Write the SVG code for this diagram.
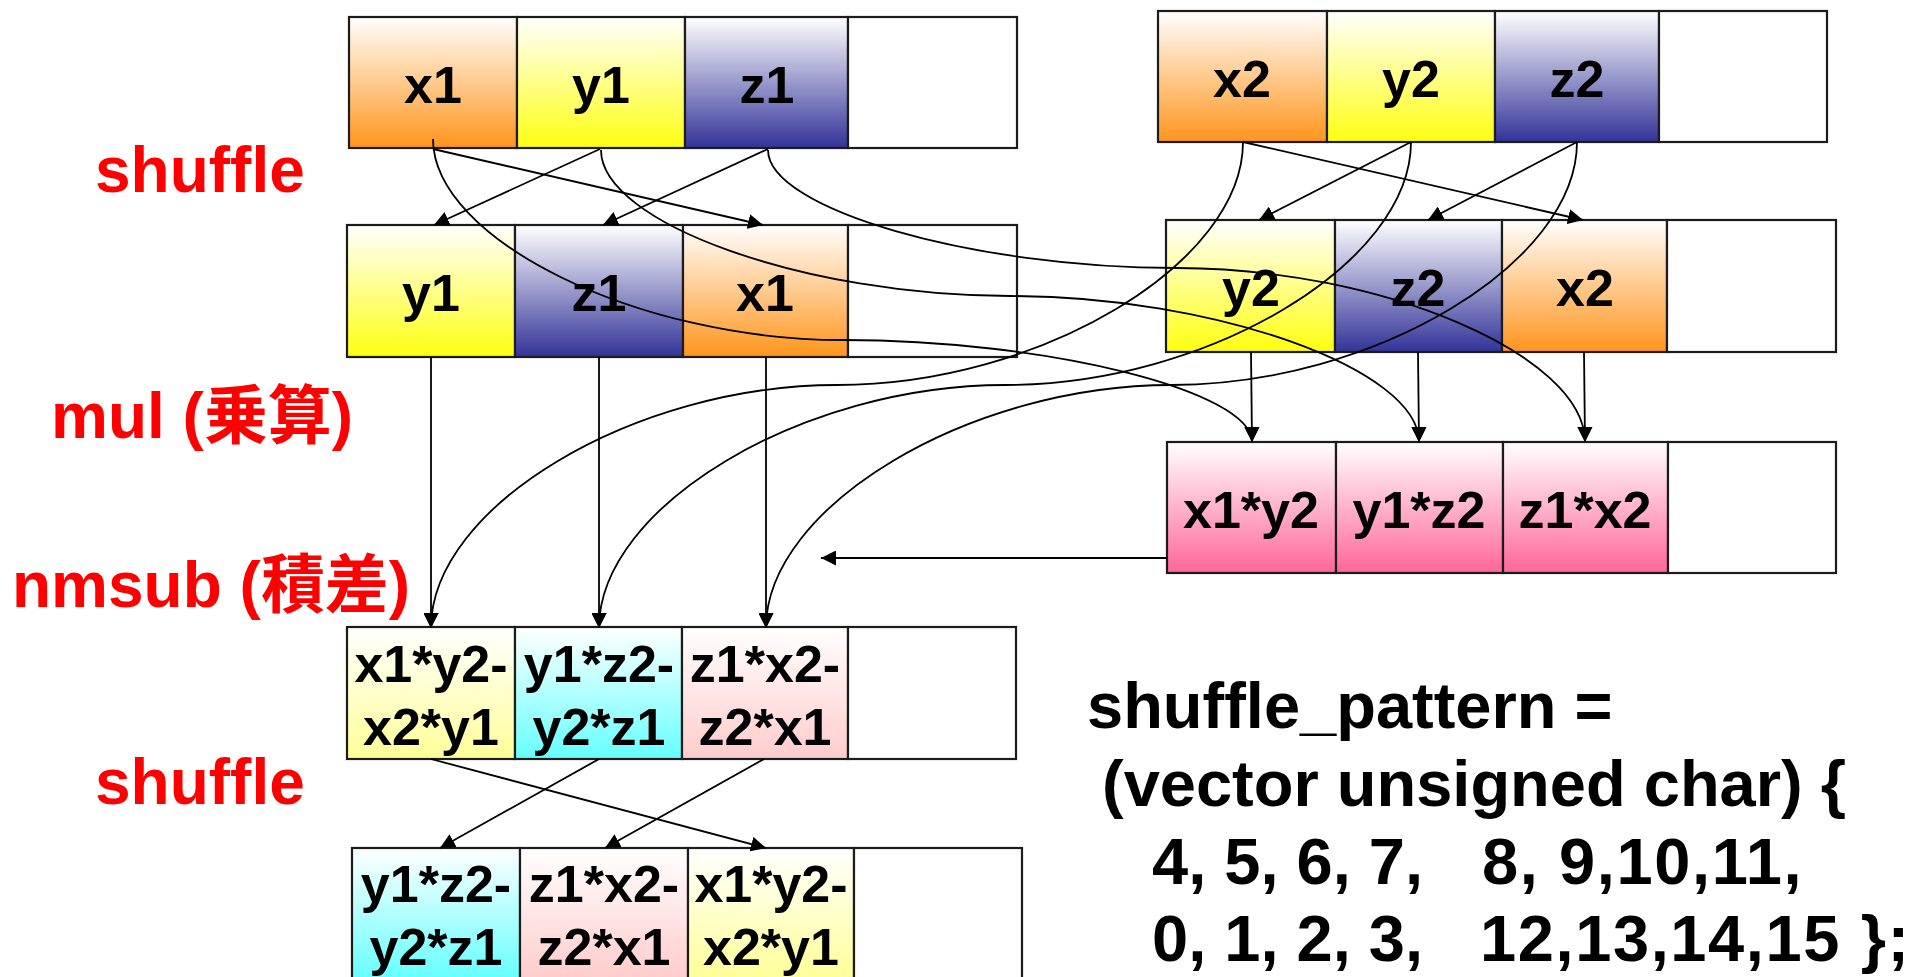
<svg xmlns="http://www.w3.org/2000/svg" width="1908" height="977" viewBox="0 0 1908 977">
  <defs>
    <linearGradient id="gX" x1="0" y1="0" x2="0" y2="1">
      <stop offset="0" stop-color="#ffffff"/>
      <stop offset="1" stop-color="#ff951c"/>
    </linearGradient>
    <linearGradient id="gY" x1="0" y1="0" x2="0" y2="1">
      <stop offset="0" stop-color="#ffffff"/>
      <stop offset="1" stop-color="#ffff10"/>
    </linearGradient>
    <linearGradient id="gZ" x1="0" y1="0" x2="0" y2="1">
      <stop offset="0" stop-color="#ffffff"/>
      <stop offset="1" stop-color="#333399"/>
    </linearGradient>
    <linearGradient id="gP" x1="0" y1="0" x2="0" y2="1">
      <stop offset="0" stop-color="#ffffff"/>
      <stop offset="1" stop-color="#ff6699"/>
    </linearGradient>
    <linearGradient id="gPY" x1="0" y1="0" x2="0" y2="1">
      <stop offset="0" stop-color="#ffffff"/>
      <stop offset="1" stop-color="#ffff99"/>
    </linearGradient>
    <linearGradient id="gC" x1="0" y1="0" x2="0" y2="1">
      <stop offset="0" stop-color="#ffffff"/>
      <stop offset="1" stop-color="#66ffff"/>
    </linearGradient>
    <linearGradient id="gPP" x1="0" y1="0" x2="0" y2="1">
      <stop offset="0" stop-color="#ffffff"/>
      <stop offset="1" stop-color="#ffcccc"/>
    </linearGradient>
    <marker id="arr" viewBox="0 0 15 15" markerUnits="userSpaceOnUse" markerWidth="15" markerHeight="15" refX="15" refY="7.5" orient="auto">
      <path d="M0,0 L15,7.5 L0,15 z" fill="#000"/>
    </marker>
  </defs>
  <style>
    .cell { stroke: #1c1c1c; stroke-width: 2.2; }
    .blank { fill: #ffffff; }
    .lbl { font-family: "Liberation Sans", Arial, sans-serif; font-weight: bold; font-size: 52px; text-anchor: middle; fill: #000; }
    .red { font-family: "Liberation Sans", "Noto Sans CJK JP", sans-serif; font-weight: bold; font-size: 64px; fill: #ff0000; }
    .code { font-family: "Liberation Sans", Arial, sans-serif; font-weight: bold; font-size: 65px; fill: #000; }
    .wide { letter-spacing: 1.6px; }
    .conn { fill: none; stroke: #000; stroke-width: 1.8; marker-end: url(#arr); }
  </style>

  <rect width="1908" height="977" fill="#ffffff"/>

  <!-- operation labels -->
  <g id="op-labels">
    <text class="red" x="95" y="192">shuffle</text>
    <text class="red" x="51" y="438">mul (乗算)</text>
    <text class="red" x="12" y="607">nmsub (積差)</text>
    <text class="red" x="95" y="804">shuffle</text>
  </g>

  <!-- vector a = (x1, y1, z1, -) -->
  <g id="vecA">
    <g id="vecA-x1"><rect class="cell" x="349" y="17" width="168" height="131" fill="url(#gX)"/><text class="lbl" x="433" y="103">x1</text></g>
    <g id="vecA-y1"><rect class="cell" x="517" y="17" width="168" height="131" fill="url(#gY)"/><text class="lbl" x="601" y="103">y1</text></g>
    <g id="vecA-z1"><rect class="cell" x="685" y="17" width="163" height="131" fill="url(#gZ)"/><text class="lbl" x="767" y="103">z1</text></g>
    <g id="vecA-w"><rect class="cell blank" x="848" y="17" width="169" height="131"/></g>
  </g>

  <!-- vector b = (x2, y2, z2, -) -->
  <g id="vecB">
    <g id="vecB-x2"><rect class="cell" x="1158" y="11" width="169" height="131" fill="url(#gX)"/><text class="lbl" x="1242" y="97">x2</text></g>
    <g id="vecB-y2"><rect class="cell" x="1327" y="11" width="168" height="131" fill="url(#gY)"/><text class="lbl" x="1411" y="97">y2</text></g>
    <g id="vecB-z2"><rect class="cell" x="1495" y="11" width="164" height="131" fill="url(#gZ)"/><text class="lbl" x="1577" y="97">z2</text></g>
    <g id="vecB-w"><rect class="cell blank" x="1659" y="11" width="168" height="131"/></g>
  </g>

  <!-- a shuffled = (y1, z1, x1, -) -->
  <g id="vecAs">
    <g id="vecAs-y1"><rect class="cell" x="347" y="225" width="168" height="132" fill="url(#gY)"/><text class="lbl" x="431" y="311">y1</text></g>
    <g id="vecAs-z1"><rect class="cell" x="515" y="225" width="168" height="132" fill="url(#gZ)"/><text class="lbl" x="599" y="311">z1</text></g>
    <g id="vecAs-x1"><rect class="cell" x="683" y="225" width="165" height="132" fill="url(#gX)"/><text class="lbl" x="765" y="311">x1</text></g>
    <g id="vecAs-w"><rect class="cell blank" x="848" y="225" width="169" height="132"/></g>
  </g>

  <!-- b shuffled = (y2, z2, x2, -) -->
  <g id="vecBs">
    <g id="vecBs-y2"><rect class="cell" x="1166" y="220" width="169" height="132" fill="url(#gY)"/><text class="lbl" x="1251" y="306">y2</text></g>
    <g id="vecBs-z2"><rect class="cell" x="1335" y="220" width="167" height="132" fill="url(#gZ)"/><text class="lbl" x="1418" y="306">z2</text></g>
    <g id="vecBs-x2"><rect class="cell" x="1502" y="220" width="165" height="132" fill="url(#gX)"/><text class="lbl" x="1585" y="306">x2</text></g>
    <g id="vecBs-w"><rect class="cell blank" x="1667" y="220" width="169" height="132"/></g>
  </g>

  <!-- products -->
  <g id="vecMul">
    <g id="vecMul-0"><rect class="cell" x="1167" y="442" width="169" height="131" fill="url(#gP)"/><text class="lbl" x="1251" y="528">x1*y2</text></g>
    <g id="vecMul-1"><rect class="cell" x="1336" y="442" width="167" height="131" fill="url(#gP)"/><text class="lbl" x="1419" y="528">y1*z2</text></g>
    <g id="vecMul-2"><rect class="cell" x="1503" y="442" width="165" height="131" fill="url(#gP)"/><text class="lbl" x="1585" y="528">z1*x2</text></g>
    <g id="vecMul-w"><rect class="cell blank" x="1668" y="442" width="168" height="131"/></g>
  </g>

  <!-- negative multiply-subtract result -->
  <g id="vecSub">
    <g id="vecSub-0"><rect class="cell" x="347" y="627" width="168" height="132" fill="url(#gPY)"/><text class="lbl" x="431" y="682">x1*y2-</text><text class="lbl" x="431" y="745">x2*y1</text></g>
    <g id="vecSub-1"><rect class="cell" x="515" y="627" width="167" height="132" fill="url(#gC)"/><text class="lbl" x="599" y="682">y1*z2-</text><text class="lbl" x="599" y="745">y2*z1</text></g>
    <g id="vecSub-2"><rect class="cell" x="682" y="627" width="166" height="132" fill="url(#gPP)"/><text class="lbl" x="765" y="682">z1*x2-</text><text class="lbl" x="765" y="745">z2*x1</text></g>
    <g id="vecSub-w"><rect class="cell blank" x="848" y="627" width="168" height="132"/></g>
  </g>

  <!-- final shuffled result -->
  <g id="vecOut">
    <g id="vecOut-0"><rect class="cell" x="352" y="848" width="168" height="131" fill="url(#gC)"/><text class="lbl" x="436" y="902">y1*z2-</text><text class="lbl" x="436" y="965">y2*z1</text></g>
    <g id="vecOut-1"><rect class="cell" x="520" y="848" width="168" height="131" fill="url(#gPP)"/><text class="lbl" x="604" y="902">z1*x2-</text><text class="lbl" x="604" y="965">z2*x1</text></g>
    <g id="vecOut-2"><rect class="cell" x="688" y="848" width="166" height="131" fill="url(#gPY)"/><text class="lbl" x="771" y="902">x1*y2-</text><text class="lbl" x="771" y="965">x2*y1</text></g>
    <g id="vecOut-w"><rect class="cell blank" x="854" y="848" width="168" height="131"/></g>
  </g>

  <!-- shuffle pattern code -->
  <g id="pattern">
    <text class="code" x="1087" y="728">shuffle_pattern =</text>
    <text class="code" x="1102" y="806">(vector unsigned char) {</text>
    <text class="code" y="884"><tspan x="1152">4, 5, 6, 7,</tspan><tspan class="wide" x="1482">8, 9,10,11,</tspan></text>
    <text class="code" y="961"><tspan x="1152">0, 1, 2, 3,</tspan><tspan class="wide" x="1480">12,13,14,15 };</tspan></text>
  </g>

  <!-- connectors -->
  <g id="connectors">
    <!-- shuffle a -->
    <path class="conn" d="M433,149 L763,225"/>
    <path class="conn" d="M600,149 L434,225"/>
    <path class="conn" d="M768,149 L603,225"/>
    <!-- shuffle b -->
    <path class="conn" d="M1243,142 L1583,220"/>
    <path class="conn" d="M1411,142 L1259,220"/>
    <path class="conn" d="M1577,142 L1428,220"/>
    <!-- a into mul -->
    <path class="conn" d="M433,139 C433,239.5 637.75,340 842.5,340 C1047.25,340 1252,391 1252,442"/>
    <path class="conn" d="M601,150 C601,223 805.5,296 1010,296 C1214.5,296 1419,369 1419,442"/>
    <path class="conn" d="M768,150 C768,209 972,268 1176.5,268 C1381,268 1585,355 1585,442"/>
    <!-- shuffled b into mul -->
    <path class="conn" d="M1251,352 L1252,442"/>
    <path class="conn" d="M1418,352 L1419,442"/>
    <path class="conn" d="M1584,352 L1585,442"/>
    <!-- b into nmsub -->
    <path class="conn" d="M1243,142 C1243,263.5 1040,385 837,385 C634,385 431,506.5 431,628"/>
    <path class="conn" d="M1411,142 C1411,263.5 1208,385 1005,385 C802,385 599,506.5 599,628"/>
    <path class="conn" d="M1577,142 C1577,263.5 1374,385 1171.5,385 C969,385 766,506.5 766,628"/>
    <!-- shuffled a into nmsub -->
    <path class="conn" d="M431,357 L431,628"/>
    <path class="conn" d="M599,357 L599,628"/>
    <path class="conn" d="M766,357 L766,628"/>
    <!-- products into nmsub -->
    <path class="conn" d="M1167,558 L821,558"/>
    <!-- final shuffle -->
    <path class="conn" d="M431,759 L766,848"/>
    <path class="conn" d="M599,759 L440,848"/>
    <path class="conn" d="M764,759 L605,848"/>
  </g>
</svg>
